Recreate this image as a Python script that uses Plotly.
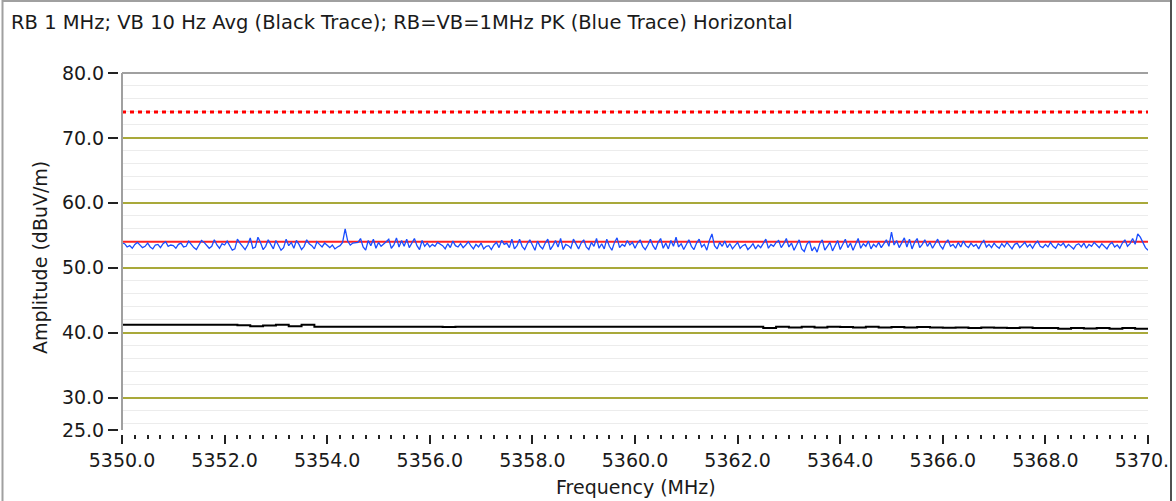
import numpy as np
import plotly.graph_objects as go

# Frequency sweep (MHz)
f_start, f_stop = 5350.0, 5370.0

# Peak detector trace (RB=VB=1 MHz), one reading every 0.05 MHz
peak_dbuv = [
    53.8, 53.7, 53.2, 53.4, 53.0, 53.6, 53.9, 53.5, 53.1, 53.3, 53.8, 53.2, 52.9, 53.5, 53.6, 53.1, 53.7, 54.0, 53.3, 53.5,
    53.4, 53.0, 53.6, 53.8, 53.2, 53.3, 54.1, 53.6, 53.1, 52.8, 53.6, 54.2, 53.9, 53.4, 53.0, 53.3, 54.3, 53.5, 53.0, 53.7,
    53.5, 54.1, 53.4, 52.7, 52.9, 54.4, 53.8, 53.2, 52.8, 53.5, 54.6, 53.0, 53.2, 54.7, 53.9, 52.8, 53.3, 54.3, 53.6, 52.9,
    54.2, 53.5, 52.7, 53.1, 54.4, 53.4, 53.9, 53.0, 54.2, 53.6, 52.8, 53.3, 54.3, 53.7, 53.4, 52.9, 54.0, 53.6, 53.2, 53.8,
    53.4, 53.1, 53.5, 52.9, 53.2, 53.4, 53.9, 56.0, 54.1, 53.5, 53.8, 53.8, 53.9, 54.5, 53.2, 52.7, 54.2, 53.4, 54.4, 53.0,
    53.9, 53.3, 53.6, 54.0, 54.4, 53.0, 53.5, 54.6, 53.2, 54.2, 53.3, 54.4, 53.1, 53.7, 54.5, 53.4, 52.8, 54.2, 53.3, 53.8,
    53.2, 53.6, 53.3, 53.9, 53.6, 53.4, 52.9, 53.7, 53.1, 54.1, 53.4, 53.2, 53.7, 53.1, 53.5, 54.0, 53.4, 52.9, 53.6, 53.2,
    53.8, 52.9, 53.3, 53.4, 52.8, 53.5, 53.9, 53.1, 54.2, 53.6, 53.8, 53.1, 54.4, 52.9, 53.4, 54.4, 53.3, 52.8, 53.7, 54.3,
    53.5, 52.7, 54.1, 53.3, 52.9, 53.8, 54.4, 52.8, 53.4, 54.2, 53.2, 54.5, 52.8, 53.6, 53.4, 53.0, 54.4, 53.6, 52.9, 53.8,
    54.3, 53.2, 52.8, 53.9, 53.3, 54.5, 53.0, 53.7, 52.9, 54.4, 53.3, 52.7, 53.9, 54.6, 53.1, 53.6, 53.3, 54.2, 53.5, 53.9,
    53.0, 53.8, 54.3, 53.3, 52.8, 53.5, 54.4, 53.4, 52.8, 53.9, 54.5, 53.0, 53.8, 52.9, 54.2, 53.3, 54.7, 53.2, 53.7, 52.8,
    53.6, 54.3, 53.3, 52.8, 53.8, 54.4, 53.2, 53.6, 52.7, 54.2, 55.2, 53.4, 52.9, 53.9, 53.3, 54.1, 53.1, 53.7, 52.9, 53.5,
    53.9, 53.0, 53.4, 53.6, 52.8, 53.2, 53.7, 52.9, 53.5, 53.1, 53.8, 54.4, 53.0, 53.6, 53.3, 53.9, 54.2, 53.1, 53.7, 54.5,
    53.2, 53.8, 52.7, 53.5, 54.3, 52.9, 52.5, 53.6, 54.1, 52.6, 53.2, 52.4, 53.7, 54.3, 52.7, 53.3, 53.9, 52.6, 53.5, 54.2,
    52.8, 53.6, 54.4, 53.1, 53.8, 52.7, 53.5, 54.5, 53.0, 53.7, 53.3, 54.1, 52.9, 53.6, 53.2, 53.9, 53.1, 53.7, 54.3, 53.3,
    55.5, 53.5, 54.2, 53.1, 53.8, 54.6, 53.2, 54.4, 52.9, 53.9, 54.5, 53.1, 53.6, 54.3, 53.3, 53.9, 53.0, 53.7, 54.4, 53.4,
    52.9, 53.8, 54.3, 53.3, 53.6, 53.0, 53.9, 53.2, 54.1, 53.4, 53.1, 53.8, 53.3, 53.6, 52.9, 53.7, 54.2, 53.2, 53.6, 53.1,
    53.8, 53.3, 53.0, 53.7, 53.2, 53.9, 53.4, 52.9, 53.6, 53.8, 53.1, 53.5, 53.9, 53.2, 53.6, 53.0, 53.7, 54.1, 53.3, 53.1,
    53.6, 53.2, 53.9, 53.3, 53.0, 53.7, 53.4, 53.8, 53.1, 53.6, 53.3, 52.9, 53.5, 53.7, 53.2, 53.8, 53.0, 53.6, 53.3, 53.9,
    53.5, 53.1, 53.7, 53.3, 52.9, 53.6, 53.9, 53.2, 53.5, 53.0, 53.8, 54.3, 53.3, 53.7, 54.5, 53.6, 55.2, 54.7, 53.9, 53.1,
    52.7,
]

# Average detector trace (VB=10 Hz), one reading every 0.25 MHz
avg_dbuv = [
    41.2, 41.2, 41.2, 41.2, 41.2, 41.2, 41.2, 41.2, 41.2, 41.15,
    41.0, 41.1, 41.2, 41.0, 41.2, 40.9, 40.9, 40.9, 40.9, 40.9,
    40.9, 40.9, 40.9, 40.9, 40.9, 40.85, 40.9, 40.9, 40.9, 40.9,
    40.9, 40.9, 40.9, 40.9, 40.9, 40.9, 40.9, 40.9, 40.9, 40.9,
    40.9, 40.9, 40.9, 40.9, 40.9, 40.9, 40.9, 40.9, 40.9, 40.9,
    40.7, 40.9, 40.8, 40.9, 40.8, 40.9, 40.85, 40.8, 40.9, 40.8,
    40.85, 40.8, 40.85, 40.8, 40.75, 40.8, 40.7, 40.8, 40.75, 40.7,
    40.8, 40.7, 40.7, 40.6, 40.7, 40.65, 40.7, 40.6, 40.7, 40.6,
    40.65,
]

# Limit lines (dBuV/m)
peak_limit = 74.0
avg_limit = 54.0

y_ticks = [25, 30, 40, 50, 60, 70, 80]
y_major_grid = [30, 40, 50, 60, 70]
x_ticks = [5350, 5352, 5354, 5356, 5358, 5360, 5362, 5364, 5366, 5368, 5370]

f_peak = np.linspace(f_start, f_stop, len(peak_dbuv))
f_avg = np.linspace(f_start, f_stop, len(avg_dbuv))

FONT = "DejaVu Sans"
FS = 19
TXT = "#1a1a1a"

fig = go.Figure()

fig.add_trace(go.Scatter(
    x=[f_start, f_stop], y=[peak_limit, peak_limit], mode="lines",
    line=dict(color="#ff0000", width=3, dash="4px,4px"), hoverinfo="skip"))
fig.add_trace(go.Scatter(
    x=[f_start, f_stop], y=[avg_limit, avg_limit], mode="lines",
    line=dict(color="#ff2020", width=2), hoverinfo="skip"))
fig.add_trace(go.Scatter(
    x=f_peak, y=peak_dbuv, mode="lines", line=dict(color="#1a4dff", width=1.3)))
fig.add_trace(go.Scatter(
    x=f_avg, y=avg_dbuv, mode="lines", line=dict(color="#000000", width=2, shape="hv")))

# Page geometry (px)
W, H = 1176, 501
L, R, T, B = 118, 1148, 73, 434       # paper box; plot box starts 4 px in
px = lambda x: (x - L) / (R - L)
py = lambda y: (B - y) / (B - T)

fig.update_layout(
    width=W, height=H, autosize=False,
    margin=dict(l=L, r=W - R, t=T, b=H - B, pad=0, autoexpand=False),
    paper_bgcolor="white", plot_bgcolor="white",
    showlegend=False,
    font=dict(family=FONT, size=FS, color=TXT),
    xaxis=dict(
        domain=[px(122), 1], range=[f_start, f_stop], anchor="free", position=0,
        tickmode="array", tickvals=x_ticks, ticktext=[f"{v:.1f}" for v in x_ticks],
        ticks="outside", ticklen=9, tickwidth=2, tickcolor="#222",
        minor=dict(dtick=0.25, tick0=5350, ticks="outside", ticklen=4, tickwidth=2, tickcolor="#222", showgrid=False),
        showgrid=False, zeroline=False, showline=False, ticklabeloverflow="allow", automargin=False,
        tickfont=dict(family=FONT, size=FS, color=TXT),
    ),
    yaxis=dict(
        domain=[py(430), 1], range=[25, 80], anchor="free", position=0,
        tickmode="array", tickvals=y_ticks, ticktext=[f"{v:.1f}" for v in y_ticks],
        ticks="outside", ticklen=10, tickwidth=2, tickcolor="#222",
        minor=dict(dtick=2, tick0=0, showgrid=True, gridcolor="#ececec", gridwidth=1, ticks=""),
        showgrid=False, zeroline=False, showline=False, automargin=False,
        tickfont=dict(family=FONT, size=FS, color=TXT),
    ),
    yaxis2=dict(
        overlaying="y", range=[25, 80], anchor="free", position=0,
        tickmode="array", tickvals=y_major_grid, showticklabels=False, ticks="",
        showgrid=True, gridcolor="#a9a93a", gridwidth=2, zeroline=False, showline=False, automargin=False,
    ),
)

# an empty trace so the grid axis is drawn
fig.add_trace(go.Scatter(x=[f_start], y=[None], yaxis="y2", mode="lines", hoverinfo="skip"))

shapes = [
    # plot box: left and top edges
    dict(type="line", xref="paper", yref="paper", x0=px(122), x1=px(122), y0=py(430), y1=1,
         line=dict(color="#a0a0a0", width=2)),
    dict(type="line", xref="paper", yref="paper", x0=px(122), x1=1, y0=1, y1=1,
         line=dict(color="#a0a0a0", width=2)),
    # panel edge: blank strip right of the frame
    dict(type="rect", xref="paper", yref="paper", x0=px(1172), x1=px(1180), y0=py(-2), y1=py(503),
         line=dict(width=0), fillcolor="white", layer="above"),
    # outer panel frame
    dict(type="line", xref="paper", yref="paper", x0=px(2.5), x1=px(2.5), y0=py(0), y1=py(501),
         line=dict(color="#a0a0a0", width=2)),
    dict(type="line", xref="paper", yref="paper", x0=px(2), x1=px(1171), y0=py(1), y1=py(1),
         line=dict(color="#a0a0a0", width=2)),
    dict(type="line", xref="paper", yref="paper", x0=px(1171), x1=px(1171), y0=py(0), y1=py(501),
         line=dict(color="#505050", width=2)),
]
fig.update_layout(shapes=shapes)

fig.add_annotation(
    text="RB 1 MHz; VB 10 Hz Avg (Black Trace); RB=VB=1MHz PK (Blue Trace) Horizontal",
    xref="paper", yref="paper", x=px(9), y=py(22), xanchor="left", yanchor="middle",
    showarrow=False, font=dict(family=FONT, size=19.5, color=TXT))
fig.add_annotation(
    text="Frequency (MHz)", xref="paper", yref="paper", x=px(636), y=py(487),
    xanchor="center", yanchor="middle", showarrow=False, font=dict(family=FONT, size=FS, color=TXT))
fig.add_annotation(
    text="Amplitude (dBuV/m)", xref="paper", yref="paper", x=px(40), y=py(258),
    xanchor="center", yanchor="middle", textangle=-90, showarrow=False,
    font=dict(family=FONT, size=FS, color=TXT))

fig.write_html("out.html")
